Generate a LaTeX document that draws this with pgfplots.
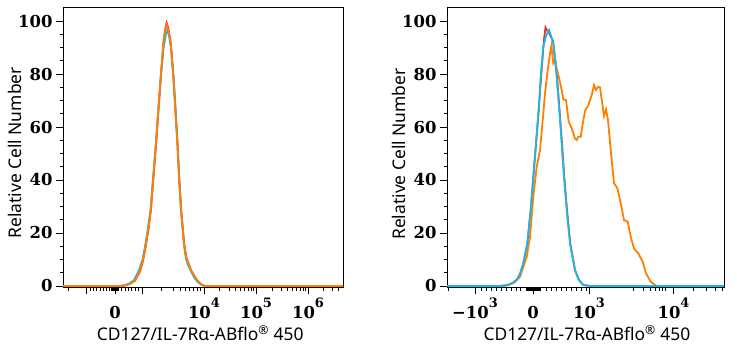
\documentclass[border=0pt]{standalone}
\usepackage{fontspec}
\usepackage{pgfplots}
\pgfplotsset{compat=1.18}
\newfontfamily\lab{Noto Sans}
\newfontfamily\tickf{DejaVu Serif}
\newcommand\tf{\tickf\bfseries\fontsize{16.5}{18}\selectfont}
\definecolor{cred}{RGB}{235,45,55}
\definecolor{corange}{RGB}{255,128,0}
\definecolor{ccyan}{RGB}{25,185,230}
\newcommand\ssup[1]{\raisebox{10.5bp}{\tickf\bfseries\fontsize{13}{14}\selectfont #1}}
\newcommand\xl[1]{{\tf #1}}
\pgfplotsset{
 hist/.style={
  scale only axis, height=280bp,
  ymin=-0.38, ymax=105.3,
  ytick={0,20,...,100}, minor y tick num=3,
  tick align=outside, tick pos=left,
  major tick length=7bp, minor tick length=3.5bp,
  every tick/.style={black, line width=0.8bp},
  axis line style={line width=0.8bp},
  yticklabel={\tf\pgfmathprintnumber[assume math mode=true]{\tick}},
  xticklabel style={anchor=base, yshift=-24bp},
  label style={font=\lab\fontsize{17.5}{20}\selectfont},
  ylabel={Relative Cell Number},
  xlabel={CD127/IL-7Rα-ABflo\textsuperscript{®} 450},
  every axis plot/.append style={line width=1.8bp, mark=none},
 }
}
\begin{document}
\begin{tikzpicture}[x=1bp,y=1bp]
\useasboundingbox (0,0) rectangle (737,350);
% ---------------- left panel ----------------
\begin{axis}[hist, width=280bp, at={(63bp,63bp)}, anchor=south west,
  xmin=63, xmax=343,
  ylabel style={at={(axis description cs:-0.17,0.479)}, anchor=center},
  xlabel style={at={(axis description cs:0.49,-0.164)}, anchor=center},
  xtick={86.7,115,142.3,204,256,308},
  xticklabels={{},\xl{0},{},\xl{10\ssup{4}},\xl{10\ssup{5}},\xl{10\ssup{6}}},
  minor xtick={68.3,90,93.3,96.7,100,103.3,106.7,109.3,111.8,112.6,113.4,114.2,115.8,116.6,117.4,118.2,121.7,125,128.3,131.7,135,138.3,161,173,180,185,189.5,193.5,197,200.5,219.8,229,235.5,240.5,244.5,248,251,253.8,272,281,287.5,292.5,296.5,300,303,305.5,323.6,332.3,338.7},
]
\addplot[cred] table {
63 0
120 0
125 0.2
130 0.8
135 2
140 5.5
143 9.5
146 15.5
148.5 21.5
150.9 28.7
153.5 41
156.2 54
158.5 66.4
160.9 79
163.5 91.7
165.2 97
166.6 99.3
168.2 97.5
170.7 92
173.4 79
175.5 66.4
177.5 54
179.2 41
181.2 28.7
184.2 16
186.2 11
188.5 8.5
191.2 5.8
195 3.3
198 1.7
201.7 0.5
205 0
343 0
};
\addplot[ccyan] table {
63 0
119 0
124 0.2
129 0.9
134 2.2
139 6
142.5 10
145.5 16
148 22
150.5 28.7
153.1 41
155.9 54
158.3 66.4
160.8 79
163.6 90
166 95
167.4 96.8
169 94.5
171 90
173.6 79
175.6 66.4
177.5 54
179.1 41
181 28.7
183.8 16
185.8 10.5
188 8
191 5.5
194.5 3
198 1.4
201.5 0.4
205 0
343 0
};
\addplot[corange] table {
63 0
120 0
125 0.2
130 0.8
135 2
140 6
143 10
146 16
148.5 22
150.7 28.7
153.3 41
156 54
158.3 66.4
160.7 79
163.3 91.7
165 96.5
166.7 98.6
168.5 96.5
170.7 91.7
173.3 79
175.3 66.4
177.3 54
179 41
181 28.7
184 16
186 11
188.3 8.7
191 6
195 3.5
198 1.8
201.7 0.5
205 0
343 0
};
\end{axis}
% ---------------- right panel ----------------
\begin{axis}[hist, width=277bp, at={(447bp,63bp)}, anchor=south west,
  xmin=447, xmax=724,
  ylabel style={at={(axis description cs:-0.175,0.475)}, anchor=center},
  xlabel style={at={(axis description cs:0.505,-0.164)}, anchor=center},
  xtick={475,533,589,673.5},
  xticklabels={\xl{−10\ssup{3}},\xl{0},\xl{10\ssup{3}},\xl{10\ssup{4}}},
  minor xtick={448.3,481.7,486.7,491.7,496.7,501.7,506.7,511.7,516,520,526,527,528,529,530,531,532,534,535,536,537,538,539,540,546.7,551.7,556.7,561.7,566.7,571.7,576.7,581.7,586.7,633.3,643.3,650,655,659,662.3,665.7,693.3,706.7,715,722.3},
]
\addplot[cred] table {
447 0
500 0
507 0.3
512 1
516.7 2.3
520 4.5
523.3 8.6
527.3 16
530.7 28.7
533.3 41
536 53.8
538.7 66.4
540.7 77
542.5 86
544 93
545.5 97.6
547 96.5
549 95.5
551 94
553 92.5
555.5 84
557 79
559.5 66.4
562 53.8
564.3 41
567 28.7
570.3 16
575 6
579 2.2
583.3 0.4
590 0
724 0
};
\addplot[corange] table {
447 0
500 0
506.7 0.2
514 1.2
520 3.5
526.7 11
530 18.6
533.3 33.7
536.7 45
540 51.3
542.7 62.6
545 72.7
547.3 80.3
550 87.8
551.3 90.6
553.3 84
555.3 85.3
556.7 82.1
558.7 79
561.7 74
563.3 70.4
566 70.2
568.7 62
571.7 59.5
575 55.7
576.7 55.1
578.3 56.3
580.7 56.3
583.3 62.6
585.3 66.4
588.3 68.3
591.7 72
594 75.8
596 74
598 75.2
600 75
602.7 67.7
604 64.2
606 66.7
608 62.6
610.7 51.3
614 38.8
617.3 36.9
620.7 31.2
624 24.9
627.7 24.3
630.7 18.6
634 14.2
638.3 12.3
642.7 9.2
646 4.8
650.7 1.6
656.7 0
724 0
};
\addplot[ccyan] table {
447 0
500 0
506.7 0.3
512 1
516.7 2.3
520 4.5
523.3 8.6
527.3 16
530.7 28.7
533.3 41
536 53.8
538.7 66.4
540.7 79
543.3 90.3
546 94.5
549 96.6
551 94.5
553.3 91.6
555 86
556.7 79
559.3 66.4
561.7 53.8
564 41
566.7 28.7
570 16
575 6
579 2.2
583.3 0.4
590 0
724 0
};
\end{axis}
\end{tikzpicture}
\end{document}
